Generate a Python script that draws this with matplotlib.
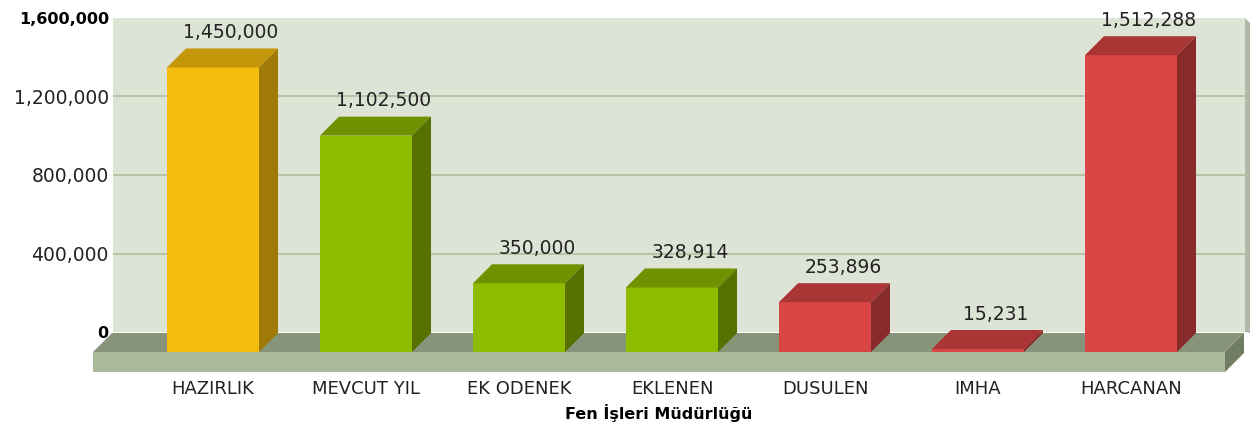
import matplotlib
matplotlib.use('Agg')
import matplotlib.pyplot as plt
from matplotlib.patches import Polygon, Rectangle

categories = ['HAZIRLIK', 'MEVCUT YIL', 'EK ODENEK', 'EKLENEN', 'DUSULEN', 'IMHA', 'HARCANAN']
values = [1450000, 1102500, 350000, 328914, 253896, 15231, 1512288]
tick_values = [0, 400000, 800000, 1200000, 1600000]
group = ['yellow', 'green', 'green', 'green', 'red', 'red', 'red']
x_title = 'Fen İşleri Müdürlüğü'

# front, top, side
palette = {
    'yellow': ('#F5BB0F', '#C49609', '#9F7A07'),
    'green': ('#8CBB00', '#6F9200', '#567100'),
    'red': ('#D84646', '#AA3535', '#892B2B'),
}

W, H = 1253, 426
DEPTH = 19
FLOOR = 20
STEP = 153
ymax = 1600000
px_per_val = 314 / ymax
dx = DEPTH / STEP
dy = DEPTH / px_per_val
floor_h = FLOOR / px_per_val
bar_w = 92 / STEP

fig = plt.figure(figsize=(W / 100, H / 100), dpi=100)
plt.rcParams['font.family'] = 'DejaVu Sans'

# back wall, with the value axis
wall = fig.add_axes([113 / W, 1 - 332 / H, 1132 / W, 314 / H])
wall.set_facecolor('#DDE3D5')
wall.set_xlim(0, 1132)
wall.set_ylim(0, ymax)
wall.set_xticks([])
wall.set_yticks(tick_values)
wall.set_yticklabels([f'{v:,}' for v in tick_values], fontsize=13.5, color='#222222')
wall.tick_params(axis='y', length=0, pad=3)
for lab, v in zip(wall.get_yticklabels(), tick_values):
    if v in (0, ymax):
        lab.set_fontweight('bold')
        lab.set_fontsize(11.5)
        lab.set_color('black')
wall.grid(axis='y', color='#B5C2A0', lw=1.3)
wall.get_ygridlines()[0].set_visible(False)
wall.get_ygridlines()[-1].set_visible(False)
wall.set_axisbelow(True)
for s in wall.spines.values():
    s.set_visible(False)
wall.add_patch(Polygon([(1132, ymax), (1137, ymax - 5 / px_per_val),
                        (1137, -1 / px_per_val), (1132, 0)],
                       closed=True, fc='#B0B8A8', ec='none', clip_on=False))

# front plane, bars and floor
ax = fig.add_axes([93 / W, 1 - 352 / H, 1132 / W, 314 / H])
ax.patch.set_visible(False)
x0 = (93 - 213) / STEP
x1 = (1225 - 213) / STEP
ax.set_xlim(x0, x1)
ax.set_ylim(0, ymax)
for s in ax.spines.values():
    s.set_visible(False)
ax.set_yticks([])

ax.add_patch(Polygon([(x0, 0), (x0 + dx, dy), (x1 + dx, dy), (x1, 0)], closed=True,
                     fc='#87947A', ec='none', clip_on=False, zorder=1))
ax.add_patch(Rectangle((x0, -floor_h), x1 - x0, floor_h, fc='#ACB99A', ec='none',
                       clip_on=False, zorder=1))
ax.add_patch(Polygon([(x1, 0), (x1 + dx, dy), (x1 + dx, dy - floor_h), (x1, -floor_h)],
                     closed=True, fc='#717D63', ec='none', clip_on=False, zorder=1))

for i, (v, g) in enumerate(zip(values, group)):
    front, top, side = palette[g]
    left = i - bar_w / 2
    right = i + bar_w / 2
    ax.bar(i, v, width=bar_w, color=front, zorder=3, clip_on=False)
    ax.add_patch(Polygon([(left, v), (left + dx, v + dy), (right + dx, v + dy), (right, v)],
                         closed=True, fc=top, ec='none', clip_on=False, zorder=3))
    ax.add_patch(Polygon([(right, 0), (right + dx, dy), (right + dx, v + dy), (right, v)],
                         closed=True, fc=side, ec='none', clip_on=False, zorder=3))
    ax.annotate(f'{v:,}', (i, v + dy), xytext=(18, 16), textcoords='offset pixels',
                ha='center', va='center', fontsize=13.5, color='#222222',
                annotation_clip=False, zorder=4)

ax.set_xticks(range(len(categories)))
ax.set_xticklabels(categories, fontsize=13, color='#222222')
ax.tick_params(axis='x', length=0, pad=28 / 1.39)
ax.set_xlabel(x_title, fontsize=11.5, fontweight='bold', color='black', labelpad=4.5)

fig.savefig('out.png', dpi=100)
